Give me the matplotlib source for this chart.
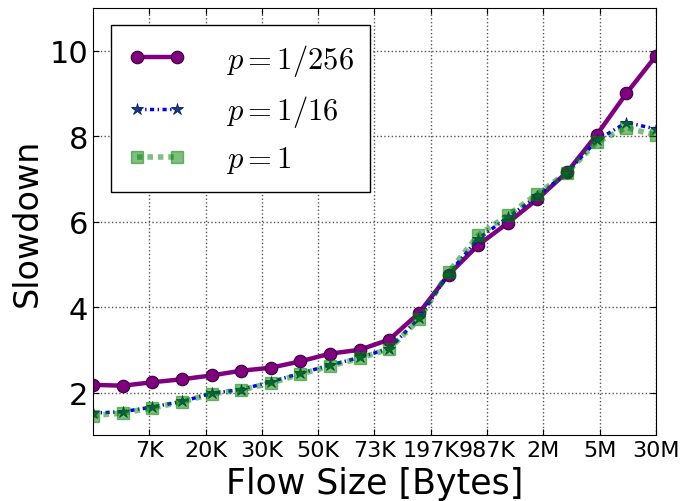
import matplotlib
matplotlib.use('Agg')
import matplotlib.pyplot as plt
import numpy as np

plt.rcParams['mathtext.fontset'] = 'cm'
plt.rcParams['lines.scale_dashes'] = False

tick_labels = ['7K', '20K', '30K', '50K', '73K', '197K', '987K', '2M', '5M', '30M']

p256 = [2.18, 2.16, 2.24, 2.31, 2.40, 2.51, 2.58, 2.73, 2.91, 3.00,
        3.24, 3.86, 4.76, 5.45, 5.97, 6.53, 7.16, 8.03, 9.00, 9.88]
p16 = [1.52, 1.55, 1.66, 1.79, 1.98, 2.07, 2.25, 2.45, 2.64, 2.82,
       3.03, 3.74, 4.78, 5.60, 6.10, 6.60, 7.15, 7.90, 8.32, 8.17]
p1 = [1.46, 1.52, 1.64, 1.78, 1.97, 2.06, 2.22, 2.43, 2.62, 2.80,
      3.02, 3.71, 4.82, 5.68, 6.15, 6.65, 7.15, 7.86, 8.20, 8.02]

x = np.linspace(0, len(tick_labels), len(p256))

fig = plt.figure(figsize=(6.84, 5.02), dpi=100)
ax = fig.add_axes([0.136, 0.131, 0.823, 0.851])

ax.plot(x, p256, '-o', color='purple', lw=3.2, ms=9, mec='#3a003a', mew=0.8,
        label=r'$p=1/256$')
ax.plot(x, p16, linestyle=(0, (3, 2.5, 1, 2.5)), marker='*', color='blue', lw=2.5,
        ms=9, mec='#00205a', mew=0.6, mfc='#1a3a8a', label=r'$p=1/16$')
ax.plot(x, p1, linestyle=(0, (4, 3.5)), marker='s', color='green', lw=4, ms=9,
        alpha=0.5, label=r'$p=1$')

ax.set_xlim(0, len(tick_labels))
ax.set_ylim(1, 11)
ax.set_xticks(np.arange(1, len(tick_labels) + 1))
ax.set_xticklabels(tick_labels, fontsize=16)
ax.set_yticks([2, 4, 6, 8, 10])
ax.tick_params(axis='y', labelsize=22)
ax.tick_params(direction='in', top=True, right=True, length=4)
ax.grid(True, linestyle=':', color='#555555', lw=1)

ax.set_xlabel('Flow Size [Bytes]', fontsize=25)
ax.set_ylabel('Slowdown', fontsize=24)

ax.legend(loc='upper left', fontsize=22, fancybox=False, edgecolor='black',
          framealpha=1, handlelength=1.9, handletextpad=1.3, numpoints=2,
          borderpad=0.55, labelspacing=0.5, borderaxespad=0,
          bbox_to_anchor=(0.032, 0.96))

fig.savefig('out.png', dpi=100)
